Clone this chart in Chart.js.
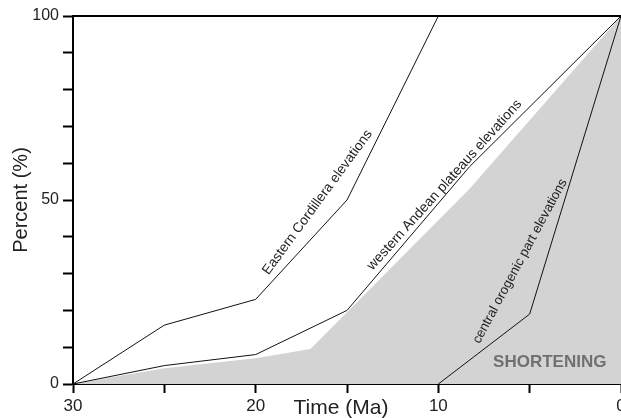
<!DOCTYPE html>
<html>
<head>
<meta charset="utf-8">
<script src="https://cdn.jsdelivr.net/npm/chart.js@4"></script>
<style>
  html, body { margin: 0; padding: 0; background: #fff; overflow: hidden; }
  #wrap { width: 650px; height: 418px; }
</style>
</head>
<body>
<div id="wrap"><canvas id="chart" width="650" height="418"></canvas></div>
<script>
// Elevation curves (time in Ma, percent of final)
const ecTime = [30, 25, 20, 15, 10];
const ecPct = [0, 16, 23, 50, 100];

const waTime = [30, 25, 20, 15, 8.3, 0];
const waPct = [0, 5, 8, 20, 59, 100];

const coTime = [10, 5, 0];
const coPct = [0, 19, 100];

// Shortening (grey area)
const shTime = [30, 25, 20, 17, 8.3, 0];
const shPct = [0, 4.3, 7, 9.5, 53, 100];

const xTicksLabelled = [30, 20, 10, 0];
const yTicksLabelled = [0, 50, 100];

// Curve labels, placed along the curves (start and end in data units)
const labelText = ['Eastern Cordillera elevations', 'western Andean plateaus elevations', 'central orogenic part elevations'];
const labelStartT = [19.3, 13.6, 7.75];
const labelStartP = [29.5, 30.8, 10.8];
const labelEndT = [13.6, 5.4, 2.95];
const labelEndP = [68, 76, 55];

const toPts = (t, p) => t.map((v, i) => ({ x: v, y: p[i] }));

const textPlugin = {
    id: 'texts',
    afterDraw(chart) {
        const ctx = chart.ctx;
        const xs = chart.scales.x;
        const ys = chart.scales.y;
        const area = chart.chartArea;

        // top frame line
        ctx.save();
        ctx.strokeStyle = '#000';
        ctx.lineWidth = 2;
        ctx.beginPath();
        ctx.moveTo(area.left - 1, area.top);
        ctx.lineTo(area.right + 30, area.top);
        ctx.stroke();

        // curve labels
        ctx.fillStyle = '#222';
        labelText.forEach((txt, i) => {
            const x0 = xs.getPixelForValue(labelStartT[i]);
            const y0 = ys.getPixelForValue(labelStartP[i]);
            const x1 = xs.getPixelForValue(labelEndT[i]);
            const y1 = ys.getPixelForValue(labelEndP[i]);
            const dist = Math.hypot(x1 - x0, y1 - y0);
            ctx.font = '12px "Liberation Sans", Arial, sans-serif';
            const size = 12 * dist / ctx.measureText(txt).width;
            ctx.font = size.toFixed(2) + 'px "Liberation Sans", Arial, sans-serif';
            ctx.save();
            ctx.translate(x0, y0);
            ctx.rotate(Math.atan2(y1 - y0, x1 - x0));
            ctx.textAlign = 'left';
            ctx.textBaseline = 'alphabetic';
            ctx.fillText(txt, 0, 0);
            ctx.restore();
        });

        // SHORTENING
        ctx.fillStyle = '#707070';
        ctx.font = 'bold 17px "Liberation Sans", Arial, sans-serif';
        ctx.textAlign = 'center';
        ctx.textBaseline = 'middle';
        ctx.fillText('SHORTENING', xs.getPixelForValue(3.9), ys.getPixelForValue(5.8));

        // axis titles
        ctx.fillStyle = '#222';
        ctx.font = '21px "Liberation Sans", Arial, sans-serif';
        ctx.fillText('Time (Ma)', 341, 408);
        ctx.font = '20px "Liberation Sans", Arial, sans-serif';
        ctx.save();
        ctx.translate(21, (area.top + area.bottom) / 2);
        ctx.rotate(-Math.PI / 2);
        ctx.fillText('Percent (%)', 0, 0);
        ctx.restore();
        ctx.restore();
    }
};

const lineStyle = { borderColor: '#111', borderWidth: 1, pointRadius: 0, fill: false, tension: 0 };

new Chart(document.getElementById('chart'), {
    type: 'line',
    data: {
        datasets: [
            { ...lineStyle, data: toPts(ecTime, ecPct) },
            { ...lineStyle, data: toPts(waTime, waPct) },
            { ...lineStyle, data: toPts(coTime, coPct) },
            {
                data: toPts(shTime, shPct),
                borderWidth: 0,
                borderColor: 'rgba(0,0,0,0)',
                backgroundColor: '#d3d3d3',
                pointRadius: 0,
                fill: 'origin',
                tension: 0
            }
        ]
    },
    options: {
        responsive: false,
        animation: false,
        events: [],
        layout: { padding: { left: 0, top: 16, right: 29, bottom: 0 } },
        plugins: { legend: { display: false }, tooltip: { enabled: false } },
        scales: {
            x: {
                type: 'linear',
                reverse: true,
                min: 0,
                max: 30,
                border: { display: true, color: '#000', width: 2 },
                grid: { drawOnChartArea: false, drawTicks: true, tickLength: 9, tickColor: '#000', tickWidth: 2 },
                ticks: {
                    stepSize: 5,
                    padding: 3,
                    color: '#222',
                    font: { family: '"Liberation Sans", Arial, sans-serif', size: 17 },
                    maxRotation: 0,
                    autoSkip: false,
                    callback: v => xTicksLabelled.includes(v) ? String(v) : ''
                },
                afterFit(scale) {
                    scale.height = 34;
                    scale.paddingLeft = 0;
                    scale.paddingRight = 0;
                }
            },
            y: {
                min: 0,
                max: 100,
                border: { display: true, color: '#000', width: 2 },
                grid: { drawOnChartArea: false, drawTicks: true, tickLength: 10, tickColor: '#000', tickWidth: 2 },
                ticks: {
                    stepSize: 10,
                    padding: 4,
                    color: '#222',
                    font: { family: '"Liberation Sans", Arial, sans-serif', size: 16 },
                    autoSkip: false,
                    callback: v => yTicksLabelled.includes(v) ? String(v) : ''
                },
                afterFit(scale) {
                    scale.width = 73;
                    scale.paddingTop = 0;
                    scale.paddingBottom = 0;
                }
            }
        }
    },
    plugins: [textPlugin]
});
</script>
</body>
</html>
